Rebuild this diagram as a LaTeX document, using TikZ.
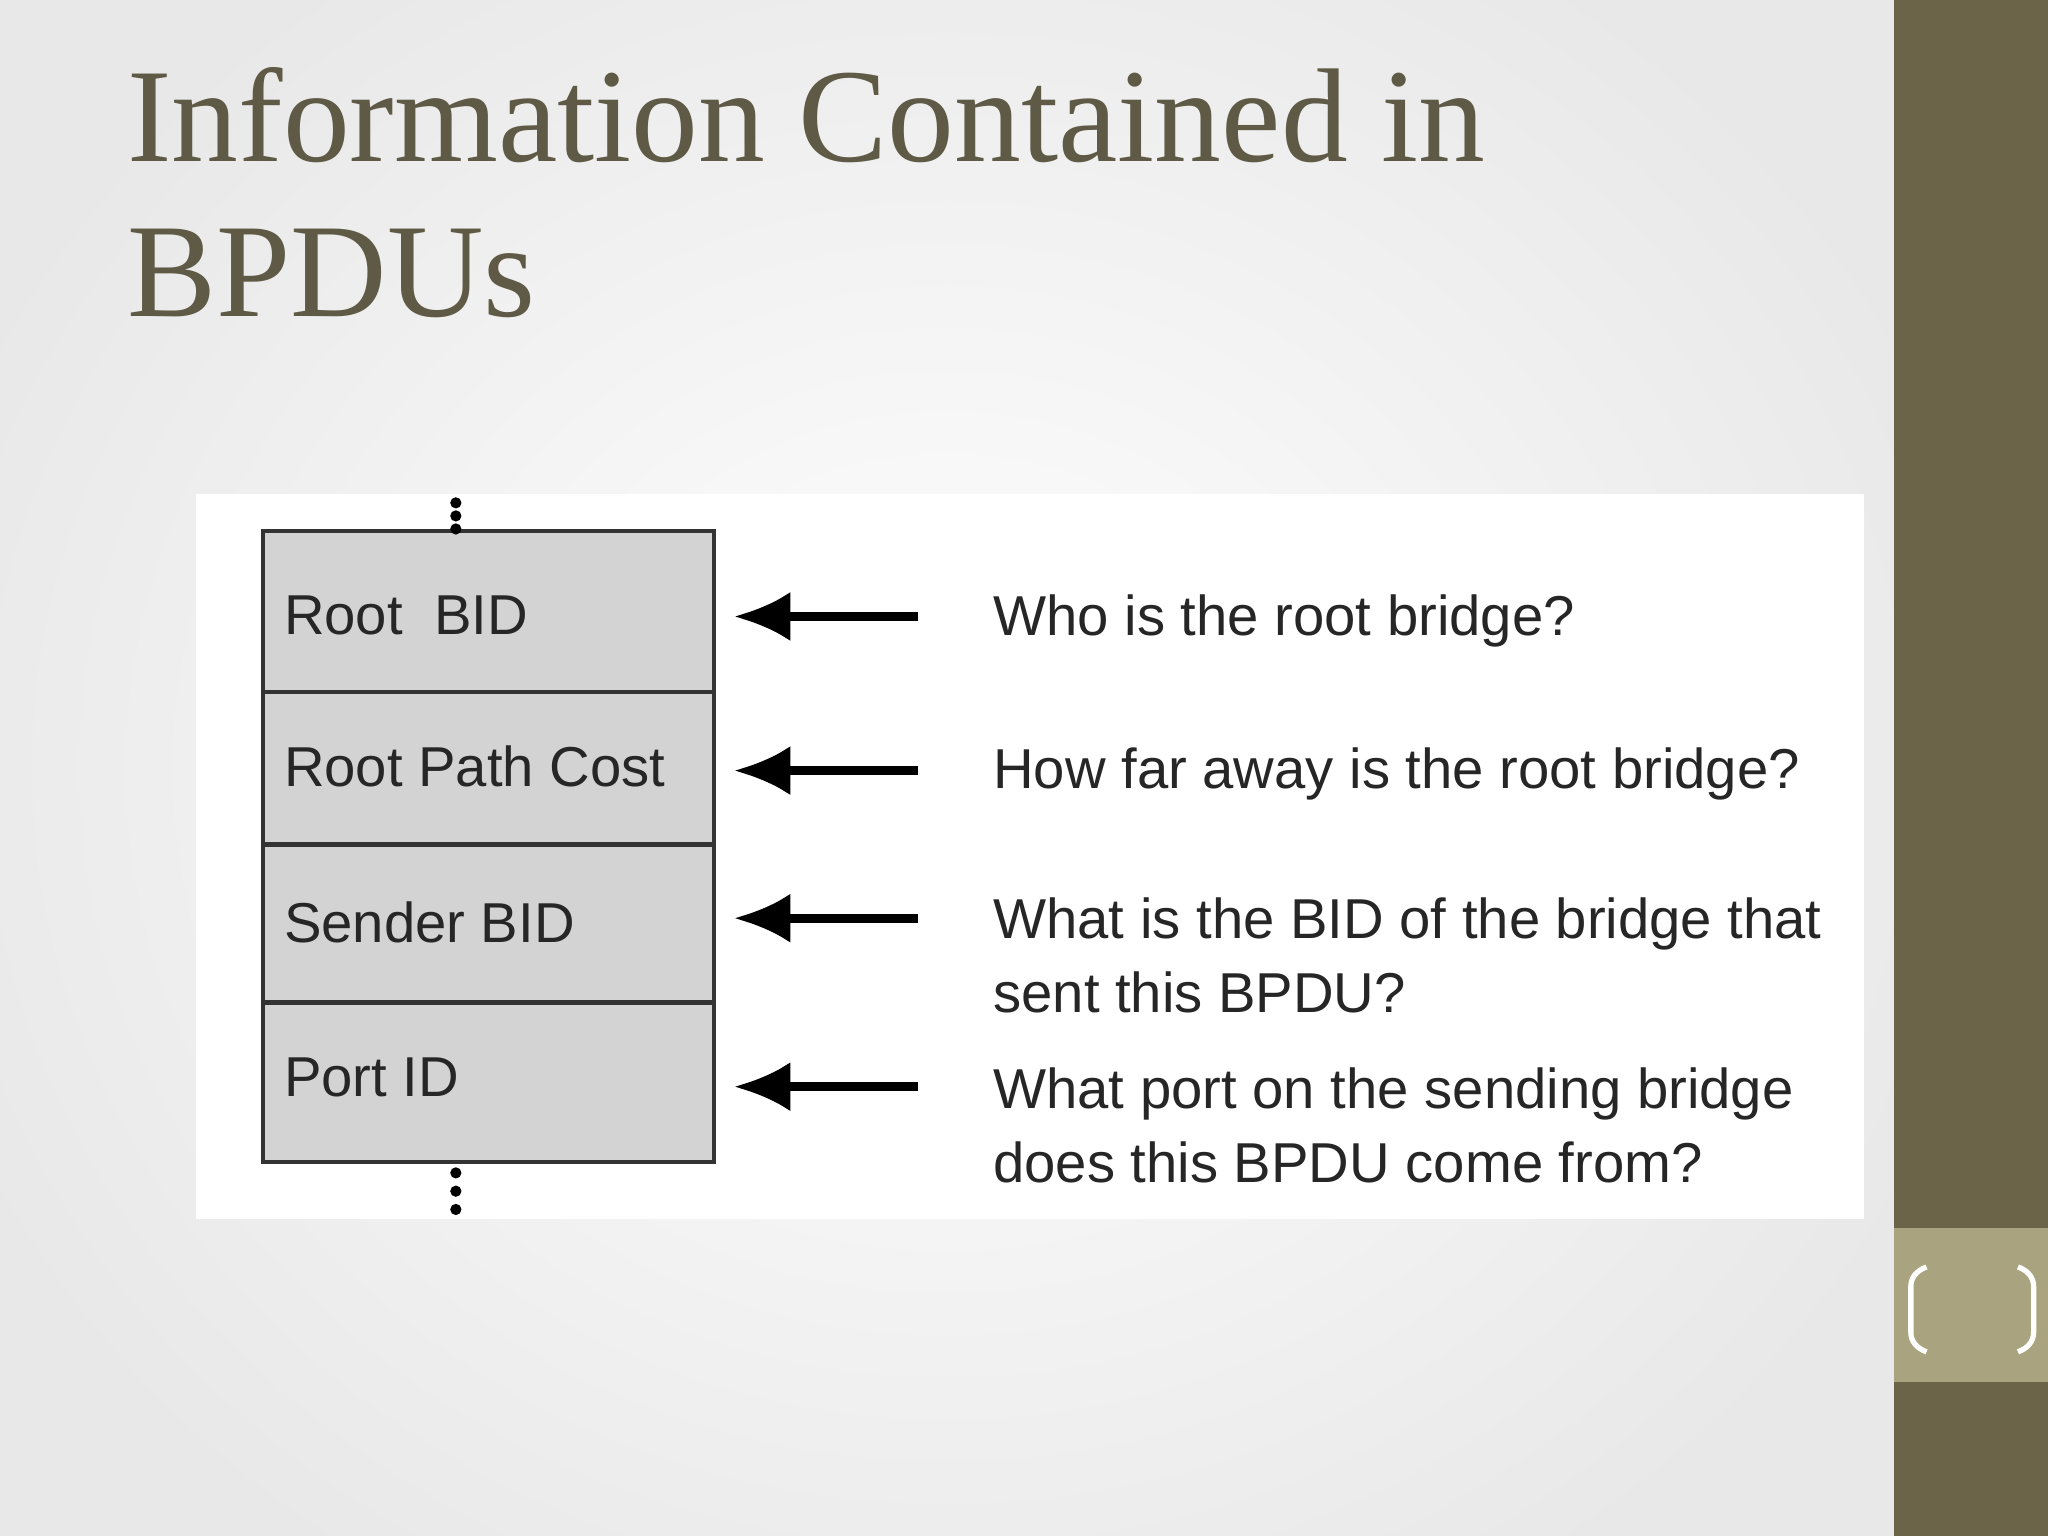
\documentclass[tikz,border=0pt]{standalone}
\usepackage{fontspec}
\setmainfont{Liberation Serif}
\newfontfamily\arialf{Liberation Sans}
\usetikzlibrary{arrows.meta}
\definecolor{olive}{HTML}{6B6448}
\definecolor{lolive}{HTML}{A9A47F}
\definecolor{titlec}{HTML}{5F5A45}
\definecolor{cellg}{HTML}{D3D3D3}
\begin{document}
\begin{tikzpicture}[x=0.01306cm,y=-0.01306cm,
  cell/.style={draw=black!80,line width=1.2pt,fill=cellg,minimum width=345*0.01306cm,anchor=north west,inner sep=0pt},
  lbl/.style={font=\arialf\fontsize{16}{19}\selectfont,anchor=west,text=black!85},
  q/.style={font=\arialf\fontsize{16}{21}\selectfont,anchor=north west,align=left,text=black!85,inner sep=0pt},
  arr/.style={-{Latex[length=16pt,width=14pt]},line width=2.5pt}]
\useasboundingbox (0,0) rectangle (1568,1176);
\fill[black!9] (0,0) rectangle (1450,1176);
\shade[inner color=white,outer color=black!9] (-100,-150) rectangle (1550,1326);
\fill[white] (150,378) rectangle (1427,933);
\fill[olive] (1450,0) rectangle (1568,1176);
\fill[lolive] (1450,940) rectangle (1568,1058);
\draw[white,line width=1.5pt] (1475,970) to[out=200,in=90] (1463,985) -- (1463,1020) to[out=270,in=160] (1475,1035);
\draw[white,line width=1.5pt] (1545,970) to[out=-20,in=90] (1557,985) -- (1557,1020) to[out=270,in=20] (1545,1035);
\node[anchor=base west,text=titlec,font=\fontsize{38}{44}\selectfont,inner sep=0pt] (t1) at (97,124) {Information Contained in};
\node[anchor=base west,text=titlec,font=\fontsize{38}{44}\selectfont,inner sep=0pt] (t2) at (97,242) {BPDUs};
\node[cell,minimum height=123*0.01306cm] (c1) at (200,405) {};
\node[cell,minimum height=117*0.01306cm] (c2) at (200,528) {};
\node[cell,minimum height=121*0.01306cm] (c3) at (200,645) {};
\node[cell,minimum height=122*0.01306cm] (c4) at (200,766) {};
\node[lbl] (l1) at (208,471) {Root\ \ BID};
\node[lbl] (l2) at (208,587) {Root Path Cost};
\node[lbl] (l3) at (208,706) {Sender BID};
\node[lbl] (l4) at (208,825) {Port ID};
\foreach \y in {385,395,405}{\fill (349,\y) circle (1.6pt);}
\foreach \y in {898,912,926}{\fill (349,\y) circle (1.6pt);}
\coordinate (a1) at (703,472); \coordinate (b1) at (562,472);
\coordinate (a2) at (703,590); \coordinate (b2) at (562,590);
\coordinate (a3) at (703,703); \coordinate (b3) at (562,703);
\coordinate (a4) at (703,832); \coordinate (b4) at (562,832);
\foreach \i in {1,2,3,4}{\draw[arr] (a\i) -- (b\i);}
\node[q] (q1) at (760,455) {Who is the root bridge?};
\node[q] (q2) at (760,572) {How far away is the root bridge?};
\node[q] (q3) at (760,687) {What is the BID of the bridge that\\sent this BPDU?};
\node[q] (q4) at (760,817) {What port on the sending bridge\\does this BPDU come from?};
\end{tikzpicture}
\end{document}
